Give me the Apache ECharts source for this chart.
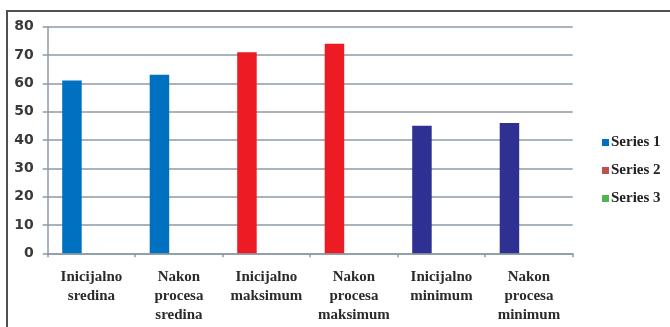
<!DOCTYPE html>
<html>
<head>
<meta charset="utf-8">
<script src="https://cdn.jsdelivr.net/npm/echarts@6/dist/echarts.min.js"></script>
<style>
  html, body { margin: 0; padding: 0; background: #fff; }
  #chart { width: 670px; height: 327px; }
</style>
</head>
<body>
<div id="chart"></div>
<script>
// Category labels (two or three lines each)
const categories = [
  'Inicijalno\nsredina',
  'Nakon\nprocesa\nsredina',
  'Inicijalno\nmaksimum',
  'Nakon\nprocesa\nmaksimum',
  'Inicijalno\nminimum',
  'Nakon\nprocesa\nminimum'
];
// Values drawn in the first bar slot of each category
const values = [61, 63, 71, 74, 45, 46];
// Fill colour of each bar
const barColors = ['#0070c0', '#0070c0', '#ed1c24', '#ed1c24', '#2e3192', '#2e3192'];
// Legend entries and their swatch colours
const seriesNames = ['Series 1', 'Series 2', 'Series 3'];
const legendColors = ['#0070c0', '#c0504d', '#4fb553'];
// Value axis ticks
const yTicks = [0, 10, 20, 30, 40, 50, 60, 70, 80];

const gridColor = '#8d9aa4';
const serifFont = '"Liberation Serif", "DejaVu Serif", serif';

const chart = echarts.init(document.getElementById('chart'), null, { renderer: 'canvas' });

const series = seriesNames.map((name, i) => ({
  name: name,
  type: 'bar',
  barWidth: 19.5,
  barGap: '0%',
  itemStyle: { color: legendColors[i] },
  data: i === 0
    ? values.map((v, k) => ({ value: v, itemStyle: { color: barColors[k] } }))
    : values.map(() => null)
}));

chart.setOption({
  animation: false,
  backgroundColor: '#ffffff',
  graphic: [{
    type: 'rect',
    shape: { x: 7, y: 11, width: 700, height: 340 },
    style: { fill: 'none', stroke: '#505050', lineWidth: 2 },
    silent: true,
    z: 100
  }],
  grid: { left: 47.7, right: 97.3, top: 26.7, bottom: 73.7, containLabel: false },
  legend: {
    orient: 'vertical',
    left: 597,
    top: 130,
    itemWidth: 7,
    itemHeight: 7,
    itemGap: 13,
    icon: 'rect',
    textStyle: { fontFamily: serifFont, fontWeight: 'bold', fontSize: 15, color: '#222222', padding: [0, 0, 0, -3] },
    data: seriesNames.map((n, i) => ({ name: n, itemStyle: { color: legendColors[i] } }))
  },
  xAxis: {
    type: 'category',
    data: categories,
    axisLine: { lineStyle: { color: gridColor, width: 1.5 } },
    axisTick: { show: true, length: 4, lineStyle: { color: gridColor, width: 1.5 } },
    axisLabel: {
      interval: 0,
      margin: 14,
      fontFamily: serifFont,
      fontWeight: 'bold',
      fontSize: 15,
      lineHeight: 19,
      color: '#2b2b2b'
    },
    splitLine: { show: false }
  },
  yAxis: {
    type: 'value',
    min: yTicks[0],
    max: yTicks[yTicks.length - 1],
    interval: 10,
    axisLine: { show: true, lineStyle: { color: gridColor, width: 1.5 } },
    axisTick: { show: true, length: 5, lineStyle: { color: gridColor, width: 1.5 } },
    axisLabel: {
      margin: 14,
      fontFamily: '"DejaVu Sans", sans-serif',
      fontWeight: 'bold',
      fontSize: 14,
      color: '#3a3a3a'
    },
    splitLine: { lineStyle: { color: gridColor, width: 1.5 } }
  },
  series: series
});
</script>
</body>
</html>
